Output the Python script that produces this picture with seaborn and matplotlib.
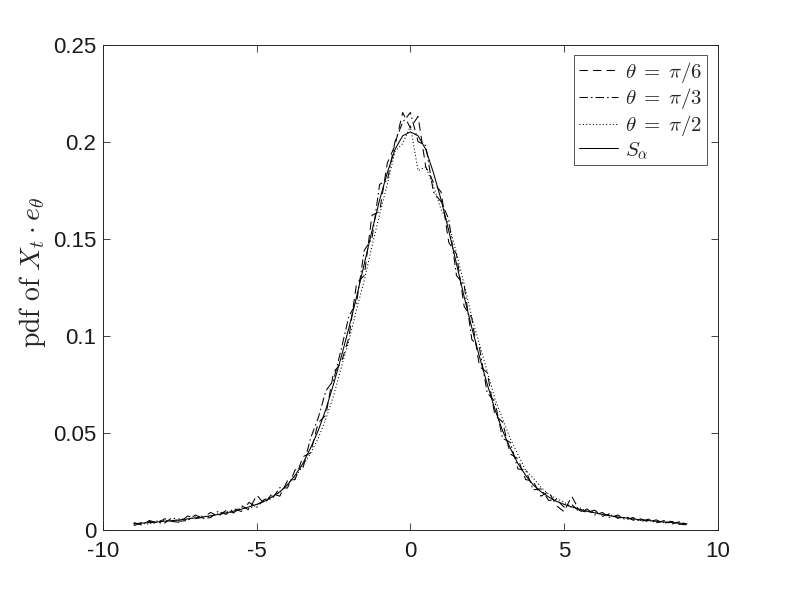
import numpy as np
import pandas as pd
import matplotlib
matplotlib.use("Agg")
import matplotlib.pyplot as plt
import seaborn as sns

# grid of the empirical densities
x = np.arange(-9, 9.001, 0.25)

# stable density S_alpha
s_alpha = [0.0030, 0.0033, 0.0036, 0.0039, 0.0043, 0.0046, 0.0050, 0.0055, 0.0060,
           0.0065, 0.0071, 0.0078, 0.0086, 0.0095, 0.0105, 0.0117, 0.0130, 0.0146,
           0.0168, 0.0195, 0.0230, 0.0280, 0.0340, 0.0420, 0.0510, 0.0620, 0.0750,
           0.0890, 0.1040, 0.1200, 0.1370, 0.1540, 0.1700, 0.1840, 0.1960, 0.2030,
           0.2050,
           0.2030, 0.1960, 0.1840, 0.1700, 0.1540, 0.1370, 0.1200, 0.1040, 0.0890,
           0.0750, 0.0620, 0.0510, 0.0420, 0.0340, 0.0280, 0.0230, 0.0195, 0.0168,
           0.0146, 0.0130, 0.0117, 0.0105, 0.0095, 0.0086, 0.0078, 0.0071, 0.0065,
           0.0060, 0.0055, 0.0050, 0.0046, 0.0043, 0.0039, 0.0036, 0.0033, 0.0030]

pdf_pi6 = [0.0020, 0.0036, 0.0043, 0.0028, 0.0056, 0.0042, 0.0037, 0.0070, 0.0056,
           0.0063, 0.0088, 0.0068, 0.0098, 0.0086, 0.0124, 0.0100, 0.0178, 0.0132,
           0.0186, 0.0172, 0.0252, 0.0258, 0.0375, 0.0395, 0.0550, 0.0590, 0.0810,
           0.0860, 0.0990, 0.1270, 0.1310, 0.1620, 0.1640, 0.1890, 0.1980, 0.2150,
           0.2070,
           0.2130, 0.1870, 0.1790, 0.1740, 0.1480, 0.1420, 0.1150, 0.1090, 0.0840,
           0.0810, 0.0590, 0.0555, 0.0390, 0.0365, 0.0258, 0.0248, 0.0172, 0.0196,
           0.0124, 0.0092, 0.0172, 0.0098, 0.0090, 0.0100, 0.0068, 0.0082, 0.0058,
           0.0068, 0.0048, 0.0055, 0.0039, 0.0050, 0.0032, 0.0042, 0.0028, 0.0024]

pdf_pi3 = [0.0036, 0.0024, 0.0047, 0.0035, 0.0033, 0.0062, 0.0043, 0.0047, 0.0075,
           0.0057, 0.0062, 0.0095, 0.0078, 0.0108, 0.0093, 0.0140, 0.0115, 0.0156,
           0.0158, 0.0216, 0.0214, 0.0308, 0.0315, 0.0470, 0.0575, 0.0715, 0.0770,
           0.0930, 0.1100, 0.1170, 0.1440, 0.1500, 0.1780, 0.1800, 0.2000, 0.2100,
           0.2150,
           0.2000, 0.1980, 0.1740, 0.1690, 0.1600, 0.1310, 0.1260, 0.0980, 0.0935,
           0.0705, 0.0660, 0.0470, 0.0450, 0.0312, 0.0308, 0.0205, 0.0210, 0.0150,
           0.0155, 0.0116, 0.0130, 0.0092, 0.0106, 0.0075, 0.0088, 0.0061, 0.0075,
           0.0050, 0.0062, 0.0041, 0.0054, 0.0034, 0.0046, 0.0028, 0.0040, 0.0028]

pdf_pi2 = [0.0028, 0.0032, 0.0028, 0.0044, 0.0049, 0.0038, 0.0057, 0.0050, 0.0065,
           0.0070, 0.0064, 0.0082, 0.0093, 0.0086, 0.0115, 0.0108, 0.0126, 0.0153,
           0.0174, 0.0188, 0.0238, 0.0268, 0.0330, 0.0392, 0.0470, 0.0570, 0.0690,
           0.0835, 0.0975, 0.1135, 0.1285, 0.1460, 0.1625, 0.1780, 0.1950, 0.1990,
           0.2080,
           0.1850, 0.1870, 0.1770, 0.1650, 0.1575, 0.1425, 0.1265, 0.1095, 0.0955,
           0.0815, 0.0675, 0.0570, 0.0470, 0.0388, 0.0306, 0.0265, 0.0218, 0.0182,
           0.0160, 0.0142, 0.0113, 0.0114, 0.0090, 0.0092, 0.0073, 0.0078, 0.0060,
           0.0063, 0.0052, 0.0047, 0.0052, 0.0037, 0.0036, 0.0044, 0.0029, 0.0025]

labels = [r"$\theta\;=\;\pi/6$", r"$\theta\;=\;\pi/3$", r"$\theta\;=\;\pi/2$", r"$S_\alpha$"]

sns.set_style("ticks")
plt.rcParams["font.family"] = ["Liberation Sans", "DejaVu Sans"]
plt.rcParams["mathtext.fontset"] = "cm"

fig = plt.figure(figsize=(7.93, 5.95), dpi=100)
ax = fig.add_axes([0.13, 0.11, 0.775, 0.815])

series = [pdf_pi6, pdf_pi3, pdf_pi2, s_alpha]
styles = [(0, (8, 5)), (0, (8, 3, 1.5, 3)), (0, (1, 2.2)), "-"]
for y, lab, ls in zip(series, labels, styles):
    df = pd.DataFrame({"x": x, "y": y})
    sns.lineplot(data=df, x="x", y="y", ax=ax, color="k", linewidth=0.75,
                 linestyle=ls, label=lab)

ax.set_xlim(-10, 10)
ax.set_ylim(0, 0.25)
ax.set_xticks([-10, -5, 0, 5, 10])
ax.set_yticks([0, 0.05, 0.1, 0.15, 0.2, 0.25])
ax.set_xticklabels(["-10", "-5", "0", "5", "10"])
ax.set_yticklabels(["0", "0.05", "0.1", "0.15", "0.2", "0.25"])
ax.tick_params(direction="in", length=5, width=0.6, labelsize=16,
               top=True, right=True, colors="0.15", labelcolor="0.1", pad=5)
ax.tick_params(axis="x", pad=8)
for sp in ax.spines.values():
    sp.set_visible(True)
    sp.set_linewidth(0.7)
    sp.set_color("0.15")

ax.set_xlabel("")
ax.set_ylabel(r"$\mathrm{pdf\ of\ } X_t \cdot e_\theta$", fontsize=20)
ax.yaxis.set_label_coords(-0.09, 0.53)

leg = ax.legend(loc="upper right", fontsize=15, frameon=True, fancybox=False,
                edgecolor="0.15", handlelength=1.9, handletextpad=0.35,
                borderpad=0.22, labelspacing=0.08, borderaxespad=0.5)
leg.get_frame().set_linewidth(0.7)

fig.savefig("out.png", dpi=100)
